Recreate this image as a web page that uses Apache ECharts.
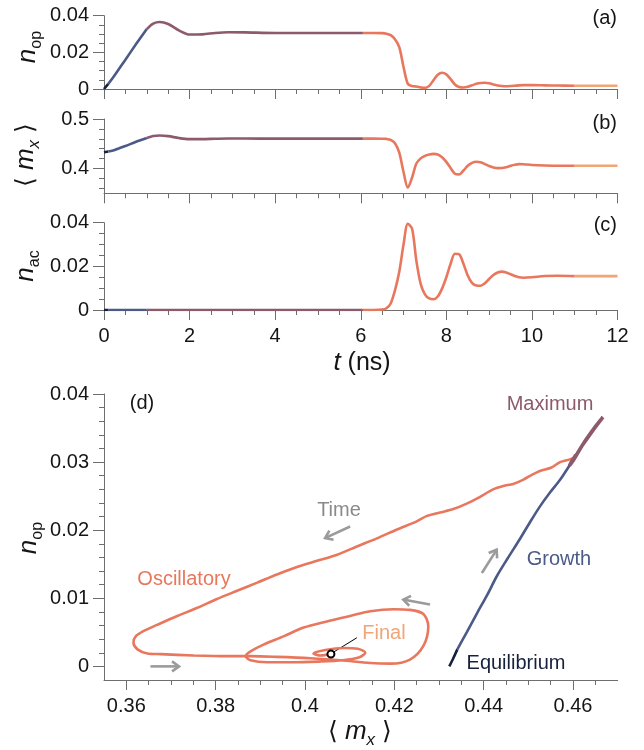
<!DOCTYPE html>
<html><head><meta charset="utf-8">
<script src="https://cdn.jsdelivr.net/npm/echarts@6/dist/echarts.min.js"></script>
<style>html,body{margin:0;padding:0;background:#fff}#c{width:644px;height:750px}</style>
</head><body><div id="c"></div>
<script>
// ---------------- data ----------------
const tTime = [0, 0.1, 0.25, 0.5, 0.75, 1.0, 1.15, 1.3, 1.5, 1.75, 2.0, 2.3, 2.6, 2.9, 3.3, 4.0, 5.0, 6.05, 6.3, 6.5,
  6.6, 6.7, 6.8, 6.9, 7.0, 7.1, 7.2, 7.3, 7.4, 7.5, 7.6, 7.7, 7.8, 7.9, 8.0, 8.1, 8.2, 8.3, 8.4, 8.5,
  8.6, 8.7, 8.8, 8.9, 9.0, 9.1, 9.2, 9.3, 9.4, 9.5, 9.6, 9.7, 9.8, 10.0, 10.3, 10.6, 11.0, 11.5, 12.0];
const nOpTime = [0, 0.0028, 0.0075, 0.0160, 0.0245, 0.0327, 0.0357, 0.0366, 0.0355, 0.0320, 0.0297, 0.0298, 0.0306, 0.0310, 0.0309, 0.0306, 0.0306, 0.0306, 0.0306, 0.0305,
  0.0302, 0.0294, 0.0272, 0.0228, 0.0120, 0.0028, 0.0016, 0.0014, 0.0009, 0.0006, 0.0017, 0.0048, 0.0078, 0.0089, 0.0080, 0.0054, 0.0025, 0.0011, 0.0008, 0.0012,
  0.0020, 0.0028, 0.0033, 0.0034, 0.0031, 0.0025, 0.0019, 0.0016, 0.0015, 0.0016, 0.0018, 0.0020, 0.0021, 0.0021, 0.0020, 0.0019, 0.0018, 0.0018, 0.0018];
const mxTime = [0.4330, 0.4345, 0.4375, 0.4455, 0.4540, 0.4616, 0.4655, 0.4668, 0.4655, 0.4615, 0.4593, 0.4594, 0.4601, 0.4606, 0.4605, 0.4604, 0.4604, 0.4604, 0.4604, 0.4602,
  0.4598, 0.4578, 0.4510, 0.4320, 0.3930, 0.3615, 0.3820, 0.4100, 0.4205, 0.4255, 0.4283, 0.4295, 0.4282, 0.4228, 0.4135, 0.4010, 0.3895, 0.3880, 0.3960, 0.4055,
  0.4115, 0.4137, 0.4125, 0.4090, 0.4050, 0.4022, 0.4008, 0.4010, 0.4028, 0.4055, 0.4078, 0.4090, 0.4088, 0.4072, 0.4060, 0.4056, 0.4055, 0.4055, 0.4055];
const nAcTime = [0, 0, 0, 0, 0, 0, 0, 0, 0, 0, 0, 0, 0, 0, 0, 0, 0, 0, 0, 0.0002,
  0.0008, 0.0030, 0.0090, 0.0175, 0.0300, 0.0395, 0.0372, 0.0225, 0.0120, 0.0072, 0.0053, 0.0049, 0.0062, 0.0098, 0.0150, 0.0212, 0.0258, 0.0255, 0.0212, 0.0158,
  0.0124, 0.0112, 0.0111, 0.0122, 0.0142, 0.0160, 0.0172, 0.0176, 0.0172, 0.0164, 0.0156, 0.0150, 0.0148, 0.0150, 0.0156, 0.0157, 0.0155, 0.0155, 0.0155];

const phaseNames = ['Equilibrium', 'Growth', 'Maximum', 'Oscillatory', 'Final'];
const phaseStartIdx = [0, 1, 5, 17, 56];
const phaseEndIdx = [1, 5, 17, 56, 58];

// panel (d): trajectory <m_x>, n_op
const dEquilibrium = [[0.4323, 0.0000], [0.4332, 0.0012], [0.4341, 0.0025]];
const dGrowth = [[0.4341, 0.0025], [0.4362, 0.0050], [0.4385, 0.0078], [0.4408, 0.0105], [0.4429, 0.0132], [0.4455, 0.0160],
  [0.4480, 0.0186], [0.4503, 0.0211], [0.4526, 0.0235], [0.4548, 0.0255], [0.4571, 0.0274], [0.4595, 0.0298], [0.4619, 0.0323]];
const dMaximum = [[0.4619, 0.0323], [0.4645, 0.0347], [0.4667, 0.0366], [0.4650, 0.0352], [0.4622, 0.0326], [0.4600, 0.0302],
  [0.4592, 0.0295], [0.4596, 0.0300], [0.4604, 0.0308], [0.4606, 0.0311], [0.4604, 0.0306]];
const dOscillatory = [[0.4606, 0.0308], [0.4593, 0.0304], [0.4571, 0.0300], [0.4552, 0.0292], [0.4526, 0.0287], [0.4507, 0.0281],
  [0.4488, 0.0274], [0.4466, 0.0268], [0.4444, 0.0265], [0.4421, 0.0260], [0.4392, 0.0249], [0.4362, 0.0239], [0.4332, 0.0231],
  [0.4302, 0.0226], [0.4273, 0.0221], [0.4250, 0.0213], [0.4206, 0.0201], [0.4161, 0.0188], [0.4116, 0.0176], [0.4072, 0.0164],
  [0.4027, 0.0155], [0.3982, 0.0146], [0.3937, 0.0135], [0.3893, 0.0123], [0.3848, 0.0111], [0.3803, 0.0099], [0.3759, 0.0086],
  [0.3714, 0.0074], [0.3669, 0.0061], [0.3639, 0.0052], [0.3621, 0.0044], [0.3616, 0.0035], [0.3625, 0.0025], [0.3647, 0.0019],
  [0.3677, 0.0018], [0.3751, 0.0016], [0.3826, 0.0015], [0.3878, 0.0015], [0.3937, 0.0014], [0.4012, 0.0012], [0.4080, 0.0009],
  [0.4146, 0.0005], [0.4191, 0.0004], [0.4235, 0.0010], [0.4265, 0.0030], [0.4276, 0.0059], [0.4265, 0.0077], [0.4235, 0.0083],
  [0.4198, 0.0084], [0.4146, 0.0081], [0.4101, 0.0074], [0.4049, 0.0066], [0.3997, 0.0057], [0.3952, 0.0044], [0.3907, 0.0032],
  [0.3878, 0.0022], [0.3867, 0.0015], [0.3878, 0.0009], [0.3915, 0.0006], [0.3970, 0.0006], [0.4030, 0.0007], [0.4085, 0.0009],
  [0.4120, 0.0013], [0.4135, 0.0020], [0.4118, 0.0026], [0.4086, 0.0027], [0.4045, 0.0024], [0.4019, 0.0019], [0.4035, 0.0016],
  [0.4058, 0.0018]];
const dFinal = [[0.4058, 0.0018]];

// tick values
const timeTicks = [0, 2, 4, 6, 8, 10, 12];
const nTicks = [0, 0.02, 0.04];
const mxTicks = [0.4, 0.5];
const dXTicks = [0.36, 0.38, 0.4, 0.42, 0.44, 0.46];
const dYTicks = [0, 0.01, 0.02, 0.03, 0.04];

// ---------------- styling ----------------
const FONT = '"Liberation Sans", Arial, Helvetica, sans-serif';
const AX = '#6e6e6e';
const TXT = '#151515';
const phaseColors = ['#16213b', '#4b5a86', '#8c5a6c', '#e8775d', '#f1a476'];

function minorSteps(min, max, step, majors) {
  const out = [];
  const n = Math.round((max - min) / step);
  for (let k = 0; k <= n; k++) {
    const v = +(min + k * step).toFixed(6);
    if (!majors.some(m => Math.abs(m - v) < 1e-9)) out.push(v);
  }
  return out;
}

const grids = [
  { left: 104, top: 15.7, width: 513.5, height: 73.3 },
  { left: 104, top: 119, width: 513.5, height: 74.3 },
  { left: 104, top: 222.7, width: 513.5, height: 87.3 },
  { left: 104, top: 394, width: 513.7, height: 286 }
].map(g => Object.assign({ outerBoundsMode: 'none', containLabel: false }, g));

const xAxis = [], yAxis = [];
function addAxes(list, pos, gi, min, max, majors, minors, showLabels, majLen) {
  const base = { type: 'value', gridIndex: gi, min, max, position: pos, splitLine: { show: false }, axisPointer: { show: false } };
  list.push(Object.assign({}, base, {
    axisLine: { show: true, onZero: false, lineStyle: { color: AX, width: 1 } },
    axisTick: { show: true, customValues: majors, length: majLen, lineStyle: { color: AX, width: 1 } },
    axisLabel: { show: showLabels, customValues: majors, margin: pos === 'left' ? 15 : 16, fontSize: 20, color: TXT, fontFamily: FONT,
      formatter: v => String(+v.toFixed(4)) }
  }));
  list.push(Object.assign({}, base, {
    axisLine: { show: false, onZero: false },
    axisTick: { show: true, customValues: minors, length: 5, lineStyle: { color: AX, width: 1 } },
    axisLabel: { show: false }
  }));
}
// time panels
for (let gi = 0; gi < 3; gi++) {
  addAxes(xAxis, 'bottom', gi, 0, 12, timeTicks, minorSteps(0, 12, 0.5, timeTicks), gi === 2, 10);
}
addAxes(yAxis, 'left', 0, 0, 0.04, nTicks, minorSteps(0, 0.04, 0.005, nTicks), true, 11);
addAxes(yAxis, 'left', 1, 0.35, 0.5, mxTicks, minorSteps(0.36, 0.5, 0.02, mxTicks), true, 11);
addAxes(yAxis, 'left', 2, 0, 0.04, nTicks, minorSteps(0, 0.04, 0.005, nTicks), true, 11);
// panel d
addAxes(xAxis, 'bottom', 3, 0.355, 0.47, dXTicks, minorSteps(0.365, 0.465, 0.005, dXTicks), true, 10);
addAxes(yAxis, 'left', 3, -0.002, 0.04, dYTicks, minorSteps(0.002, 0.04, 0.002, dYTicks), true, 11);

const series = [];
const timeValues = [nOpTime, mxTime, nAcTime];
for (let gi = 0; gi < 3; gi++) {
  for (let p = 0; p < phaseNames.length; p++) {
    const data = [];
    for (let i = phaseStartIdx[p]; i <= phaseEndIdx[p]; i++) data.push([tTime[i], timeValues[gi][i]]);
    series.push({
      name: phaseNames[p], type: 'line', xAxisIndex: gi * 2, yAxisIndex: gi * 2, data,
      showSymbol: false, smooth: 0.3, lineStyle: { color: phaseColors[p], width: 2.6 }, z: 3, silent: true
    });
  }
}
const dSets = [
  ['Oscillatory', dOscillatory, 3, 2.6],
  ['Growth', dGrowth, 1, 2.6],
  ['Equilibrium', dEquilibrium, 0, 2.6],
  ['Maximum', dMaximum, 2, 3.6]
];
dSets.forEach(([name, data, ci, w]) => series.push({
  name, type: 'line', xAxisIndex: 6, yAxisIndex: 6, data, showSymbol: false, smooth: 0.3,
  lineStyle: { color: phaseColors[ci], width: w }, z: 3, silent: true
}));
series.push({
  name: 'Final', type: 'line', xAxisIndex: 6, yAxisIndex: 6, data: dFinal, showSymbol: true, symbol: 'circle', symbolSize: 7,
  itemStyle: { color: '#ffffff', borderColor: '#000000', borderWidth: 2 }, lineStyle: { color: phaseColors[4], width: 2.6 }, z: 6, silent: true
});

const chart = echarts.init(document.getElementById('c'), null, { renderer: 'canvas' });
chart.setOption({ animation: false, backgroundColor: '#ffffff', grid: grids, xAxis, yAxis, series });

// ---------------- annotations ----------------
const arrowsD = [
  [[0.4101, 0.02054], [0.4045, 0.01884]],
  [[0.4396, 0.01372], [0.4429, 0.01713]],
  [[0.3654, 0.0000], [0.3718, 0.0000]],
  [[0.4280, 0.00908], [0.4220, 0.00981]]
];
const pointerD = [[0.4064, 0.0021], [0.4116, 0.0042]];
const toPx = p => chart.convertToPixel({ xAxisIndex: 6, yAxisIndex: 6 }, p);
const G = [];
const ARC = '#9b9b9b';
arrowsD.forEach(([a, b]) => {
  const p1 = toPx(a), p2 = toPx(b);
  const dx = p2[0] - p1[0], dy = p2[1] - p1[1], L = Math.hypot(dx, dy), ux = dx / L, uy = dy / L;
  const hl = 7, hw = 5;
  const bx = p2[0] - ux * hl, by = p2[1] - uy * hl;
  G.push({ type: 'line', silent: true, shape: { x1: p1[0], y1: p1[1], x2: p2[0] - ux * 1, y2: p2[1] - uy * 1 }, style: { stroke: ARC, lineWidth: 2.6 } });
  G.push({ type: 'polyline', silent: true, shape: { points: [[bx - uy * hw, by + ux * hw], [p2[0], p2[1]], [bx + uy * hw, by - ux * hw]] },
    style: { stroke: ARC, lineWidth: 2.6, fill: null, lineJoin: 'miter' } });
});
{
  const p1 = toPx(pointerD[0]), p2 = toPx(pointerD[1]);
  G.push({ type: 'line', silent: true, shape: { x1: p1[0], y1: p1[1], x2: p2[0], y2: p2[1] }, style: { stroke: '#000', lineWidth: 1 } });
}
function txt(x, y, text, color, size, align, extra) {
  return Object.assign({ type: 'text', x, y, silent: true, z: 10,
    style: { text, fill: color, font: size + 'px ' + FONT, align: align || 'center', verticalAlign: 'middle',
      textAlign: align || 'center', textVerticalAlign: 'middle' } }, extra || {});
}
G.push(txt(617, 18.5, '(a)', TXT, 20, 'right'));
G.push(txt(617, 123, '(b)', TXT, 20, 'right'));
G.push(txt(617, 225, '(c)', TXT, 20, 'right'));
G.push(txt(142, 403, '(d)', TXT, 20));
G.push(txt(550, 404, 'Maximum', phaseColors[2], 20));
G.push(txt(339, 510, 'Time', '#8a8a8a', 20));
G.push(txt(559, 559, 'Growth', phaseColors[1], 20));
G.push(txt(184, 579, 'Oscillatory', phaseColors[3], 20));
G.push(txt(384, 633, 'Final', phaseColors[4], 20));
G.push(txt(516, 663, 'Equilibrium', phaseColors[0], 20));

const richBase = {
  i: { fontStyle: 'italic', fontSize: 26, fontFamily: FONT, lineHeight: 34, verticalAlign: 'middle', fill: TXT, color: TXT },
  r: { fontSize: 25, fontFamily: FONT, lineHeight: 34, verticalAlign: 'middle', fill: TXT, color: TXT },
  s: { fontSize: 16, fontFamily: FONT, lineHeight: 16, verticalAlign: 'bottom', fill: TXT, color: TXT },
  si: { fontSize: 17, fontStyle: 'italic', fontFamily: FONT, lineHeight: 16, verticalAlign: 'bottom', fill: TXT, color: TXT }
};
function richTxt(x, y, text, rot) {
  return { type: 'text', x, y, rotation: rot || 0, silent: true, z: 10,
    style: { text, rich: richBase, align: 'center', verticalAlign: 'middle', textAlign: 'center', textVerticalAlign: 'middle', fill: TXT } };
}
const R90 = Math.PI / 2;
G.push(richTxt(28, 47, '{i|n}{s|op}', R90));
G.push(richTxt(26, 155, '{r|⟨ }{i|m}{si|x}{r| ⟩}', R90));
G.push(richTxt(26, 266, '{i|n}{s|ac}', R90));
G.push(richTxt(29, 538, '{i|n}{s|op}', R90));
G.push(richTxt(362, 363, '{i|t}{r| (ns)}', 0));
G.push(richTxt(360, 732, '{r|⟨ }{i|m}{si|x}{r| ⟩}', 0));

chart.setOption({ graphic: G });
</script>
</body></html>
